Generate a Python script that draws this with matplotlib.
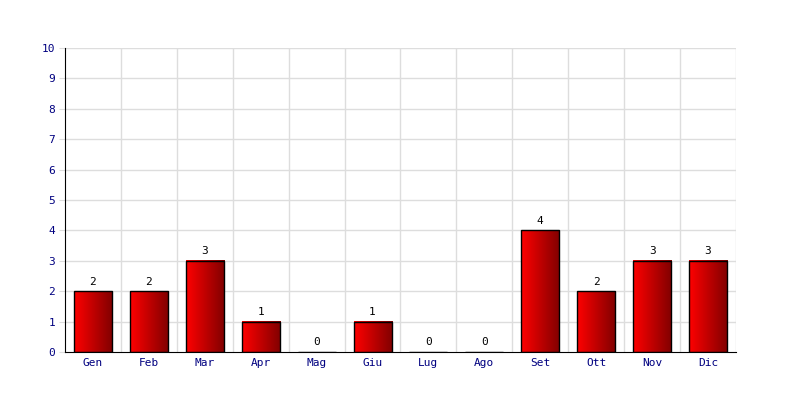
import numpy as np
import matplotlib.pyplot as plt
from matplotlib.colors import LinearSegmentedColormap

# monthly counts
months = ['Gen', 'Feb', 'Mar', 'Apr', 'Mag', 'Giu', 'Lug', 'Ago', 'Set', 'Ott', 'Nov', 'Dic']
counts = [2, 2, 3, 1, 0, 1, 0, 0, 4, 2, 3, 3]
y_ticks = list(range(0, 11))

plt.rcParams['font.family'] = 'DejaVu Sans Mono'

fig = plt.figure(figsize=(8, 4), dpi=100, facecolor='w')
ax = fig.add_axes([0.08125, 0.12, 0.83875, 0.76])

x = np.arange(len(months))
ax.set_xlim(-0.5, len(months) - 0.5)
ax.set_ylim(0, 10)

# grid: horizontal at every unit, vertical at category boundaries
for yv in y_ticks[1:]:
    ax.axhline(yv, color='#dddddd', lw=1, zorder=0)
for b in np.arange(0.5, len(months) - 0.5, 1):
    ax.axvline(b, color='#dddddd', lw=1, zorder=0)
ax.axvline(len(months) - 0.5, color='#dddddd', lw=1, zorder=0)

cmap = LinearSegmentedColormap.from_list('redgrad', ['#ff0000', '#800000'])
grad = np.linspace(0, 1, 256).reshape(1, -1)
width = 0.68

bars = ax.bar(x, counts, width=width, color='none', edgecolor='black', lw=1, zorder=3)
for rect, v in zip(bars, counts):
    if v > 0:
        x0 = rect.get_x()
        ax.imshow(grad, cmap=cmap, aspect='auto', zorder=2,
                  extent=[x0, x0 + width, 0, v], interpolation='bicubic')
    ax.text(rect.get_x() + width / 2, v + 0.15, str(v), ha='center', va='bottom',
            fontsize=8, color='black', zorder=4)

ax.set_xlim(-0.5, len(months) - 0.5)
ax.set_ylim(0, 10)
ax.set_xticks(x)
ax.set_xticklabels(months)
ax.set_yticks(y_ticks)
ax.tick_params(axis='x', length=0, pad=4, labelsize=8, labelcolor='#000080')
ax.tick_params(axis='y', length=4, color='#dddddd', pad=3, labelsize=8, labelcolor='#000080')

for side in ['top', 'right']:
    ax.spines[side].set_visible(False)
ax.spines['left'].set_color('black')
ax.spines['bottom'].set_color('black')

fig.savefig('out.png', dpi=100)
